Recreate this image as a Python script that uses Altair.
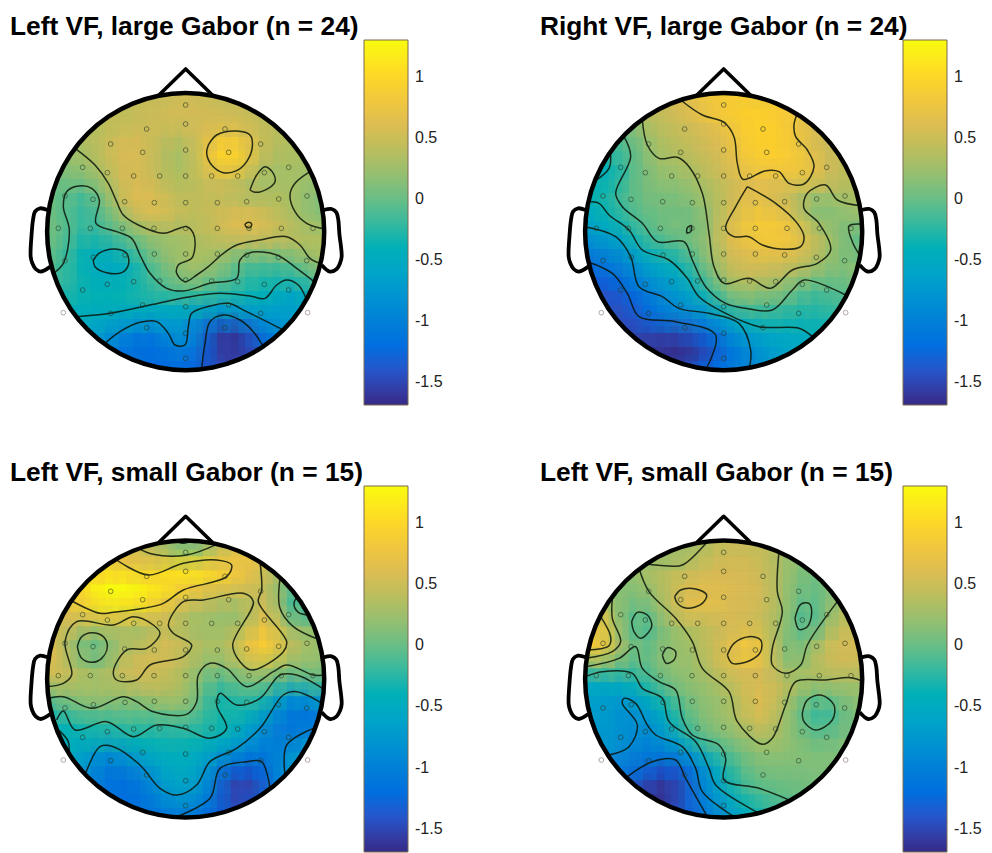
import altair as alt
import pandas as pd

TITLES = ["Left VF, large Gabor (n = 24)", "Right VF, large Gabor (n = 24)",
          "Left VF, small Gabor (n = 15)", "Left VF, small Gabor (n = 15)"]
BAR_TICKS = [1, 0.5, 0, -0.5, -1, -1.5]
STOPS = [-1.69, -1.316, -0.943, -0.569, -0.195, 0.179, 0.553, 0.926, 1.30]
PARULA = ["#352A87", "#0363E1", "#1485D4", "#06A7C6", "#38B99E", "#92BF73", "#D9BA56", "#FCCE2E", "#F9FB0E"]

P1 = [
[.45,.45,.5,.5,.5,.45,.4],
[.4,.45,.45,.5,.5,.5,.5,.5,.5,.45,.4],
[.35,.4,.4,.45,.5,.5,.5,.55,.55,.5,.5,.5,.45,.4,.4],
[.35,.35,.45,.5,.55,.5,.45,.4,.4,.55,.7,.8,.7,.5,.4,.35,.35],
[.3,.35,.45,.55,.6,.55,.4,.3,.3,.6,.95,1.05,.9,.5,.4,.35,.35],
[.15,.2,.25,.4,.55,.6,.5,.4,.3,.35,.55,.85,.95,.75,.4,.3,.3,.3,.3],
[.05,.1,.15,.3,.45,.55,.55,.45,.35,.35,.45,.5,.5,.45,.3,.25,.3,.3,.2],
[0,0,-.1,-.1,.15,.5,.6,.6,.5,.4,.4,.45,.45,.4,.3,.25,.35,.35,.25,.15,.1],
[0,0,-.2,-.2,0,.3,.55,.65,.65,.5,.4,.45,.45,.5,.5,.5,.4,.35,.25,.1,.1],
[.05,0,-.15,-.2,-.05,.1,.35,.45,.5,.45,.4,.45,.5,.6,.65,.6,.5,.4,.3,.2,.2],
[.05,0,-.2,-.25,-.2,-.05,.05,.2,.25,.25,.3,.35,.45,.55,.6,.6,.5,.45,.4,.35,.35],
[0,-.05,-.3,-.4,-.4,-.3,-.15,.05,.2,.25,.35,.35,.35,.3,.25,.25,.25,.3,.3,.35,.35],
[-.1,-.1,-.35,-.45,-.55,-.55,-.45,-.15,.05,.15,.25,.3,.25,.1,-.1,-.05,-.1,-.1,.05,.2,.3],
[-.1,-.15,-.3,-.45,-.5,-.5,-.4,-.25,-.05,.1,.3,.15,.05,-.05,-.15,-.25,-.25,-.25,-.15,-.05,.1],
[-.2,-.3,-.35,-.4,-.35,-.3,-.2,-.15,-.1,-.1,-.1,-.15,-.2,-.3,-.35,-.4,-.5,-.55,-.35],
[-.4,-.4,-.4,-.4,-.4,-.4,-.4,-.4,-.4,-.35,-.35,-.45,-.5,-.5,-.5,-.55,-.65,-.65,-.5],
[-.45,-.5,-.55,-.55,-.6,-.6,-.65,-.65,-.8,-.95,-1.0,-1.05,-.95,-.8,-.75,-.7,-.6],
[-.5,-.55,-.7,-.85,-1.0,-1.15,-1.0,-.75,-.75,-1.1,-1.5,-1.7,-1.5,-1.2,-1.0,-.85,-.7],
[-.6,-.9,-1.1,-1.15,-1.2,-1.15,-1.0,-.95,-1.25,-1.55,-1.65,-1.6,-1.45,-1.2,-1.0],
[-1.1,-1.2,-1.25,-1.25,-1.2,-1.1,-1.3,-1.5,-1.55,-1.5,-1.35],
[-1.2,-1.25,-1.25,-1.25,-1.35,-1.45,-1.45],
]
P2 = [
[.6,.7,.8,.85,.85,.85,.8],
[.45,.5,.6,.75,.85,.9,.95,.95,.9,.9,.8],
[.1,.3,.4,.45,.5,.55,.65,.75,.9,.95,.95,.9,.8,.65,.5],
[-.1,-.05,.2,.3,.4,.45,.5,.6,.65,.85,.95,.95,.95,.75,.6,.5,.45],
[-.15,-.1,.1,.3,.35,.4,.45,.5,.6,.8,.9,.95,.9,.85,.7,.5,.45],
[-.4,-.45,-.15,.05,.2,.3,.3,.4,.5,.55,.75,.85,.9,.9,.85,.75,.55,.45,.4],
[-.45,-.35,-.1,.05,.15,.2,.2,.3,.4,.45,.6,.65,.65,.65,.7,.75,.6,.45,.4],
[-.4,-.35,-.2,-.1,.05,.1,.1,.15,.25,.35,.45,.55,.7,.55,.5,.45,.3,.3,.3,.35,.35],
[-.45,-.4,-.25,-.1,0,.05,0,.05,.1,.3,.45,.6,.75,.7,.6,.45,.1,.1,.2,.3,.3],
[-.55,-.45,-.4,-.2,-.1,.05,.1,.05,0,.3,.5,.7,.85,.85,.8,.65,.3,.2,.1,.15,.2],
[-.75,-.65,-.55,-.45,-.15,-.1,.05,.1,.05,.3,.55,.75,.85,.85,.9,.8,.5,.35,.2,.05,-.05],
[-.95,-.9,-.9,-.6,-.45,-.25,-.2,-.1,.1,.25,.5,.6,.7,.75,.75,.65,.5,.35,.2,-.05,0],
[-1.2,-1.1,-.95,-.9,-.7,-.5,-.45,-.3,-.05,.2,.45,.55,.6,.6,.55,.5,.4,.25,.1,.15,.25],
[-1.35,-1.3,-1.25,-1.05,-.85,-.7,-.6,-.5,-.2,.05,.35,.4,.45,.4,.3,.25,.15,.05,.05,.1,.15],
[-1.4,-1.4,-1.3,-1.1,-.95,-.8,-.65,-.45,-.2,.1,.3,.2,.25,.15,.05,-.15,-.1,-.05,-.05],
[-1.45,-1.45,-1.4,-1.25,-1,-.9,-.8,-.7,-.4,-.15,0,-.05,-.1,-.1,-.2,-.25,-.2,-.15,-.15],
[-1.45,-1.45,-1.35,-1.2,-1.0,-.95,-.95,-.85,-.6,-.4,-.3,-.25,-.3,-.3,-.3,-.3,-.25],
[-1.5,-1.5,-1.5,-1.5,-1.5,-1.45,-1.3,-1.2,-.9,-.7,-.6,-.55,-.5,-.5,-.5,-.45,-.4],
[-1.55,-1.6,-1.65,-1.7,-1.7,-1.6,-1.45,-1.25,-1.0,-.85,-.7,-.6,-.55,-.5,-.45],
[-1.55,-1.6,-1.6,-1.5,-1.3,-1.1,-1,-.85,-.75,-.65,-.55],
[-1.45,-1.3,-1.25,-1.15,-1.05,-.95,-.85],
]
P3 = [
[.45,.3,.1,-.1,.1,.3,.5],
[.6,.6,.5,.45,.4,.35,.45,.5,.65,.7,.75],
[.85,.9,.95,.85,.8,.95,1.05,1.2,1.15,1.05,.9,.8,.65,.4,.3],
[.9,1.15,1.3,1.35,1.3,1.2,1.15,1.1,.9,.8,.75,.7,.65,.5,.35,.1,-.1],
[.85,1.1,1.3,1.35,1.25,1.15,1.0,.75,.65,.5,.45,.4,.4,.45,.45,.05,-.3],
[.6,.65,.8,.85,.9,.85,.8,.65,.5,.35,.3,.25,.15,.2,.5,.6,.1,-.3,0],
[.55,.45,.35,.4,.4,.25,.3,.45,.4,.25,.25,.25,.25,.35,.65,.75,.3,.1,.25],
[.7,.45,.2,.05,.1,.3,.3,.35,.5,.5,.4,.35,.3,.35,.6,.95,.9,.5,.35,.25,.2],
[.65,.45,.15,-.1,0,.3,.45,.5,.6,.55,.45,.3,.3,.35,.65,.85,.8,.4,.3,.25,.2],
[.65,.55,.4,.25,.25,.45,.55,.5,.5,.4,.35,.2,.1,.15,.3,.4,.35,.2,.15,.15,.15],
[.4,.45,.35,.3,.3,.4,.45,.5,.45,.4,.3,.05,-.1,-.05,.05,.1,0,-.15,-.15,-.1,0],
[.05,.1,.2,.25,.25,.2,.15,.3,.35,.35,.3,.05,-.3,-.3,-.15,-.15,-.35,-.8,-.85,-.6,-.4],
[-.2,-.15,0,.05,.05,.05,0,0,.05,.1,.1,-.1,-.35,-.25,-.3,-.4,-.7,-1.0,-1.1,-1.1,-1.0],
[-.45,-.4,-.3,-.25,-.3,-.2,-.15,-.15,-.2,-.15,-.15,-.2,-.25,-.35,-.5,-.7,-.95,-1.1,-1.15,-1.1,-1.0],
[-.45,-.45,-.35,-.3,-.3,-.35,-.35,-.3,-.3,-.3,-.35,-.4,-.5,-.65,-.85,-1.0,-1.05,-1.05,-.85],
[-.45,-.5,-.7,-.85,-.8,-.6,-.5,-.45,-.45,-.45,-.5,-.6,-.75,-.9,-1.0,-1.1,-.9,-.7,-.6],
[-.6,-.85,-1.05,-1.05,-.95,-.8,-.6,-.5,-.5,-.6,-.9,-1.2,-1.3,-1.3,-1.1,-.8,-.65],
[-.65,-.9,-1.1,-1.15,-1.15,-1.0,-.7,-.55,-.55,-.7,-1.1,-1.45,-1.55,-1.45,-1.15,-.8,-.65],
[-1.0,-1.15,-1.2,-1.2,-1.15,-.85,-.7,-.7,-.85,-1.15,-1.5,-1.6,-1.45,-1.2,-.9],
[-1.2,-1.2,-1.2,-1.05,-.9,-.9,-1.0,-1.3,-1.45,-1.4,-1.3],
[-1.15,-1.15,-1.1,-1.15,-1.2,-1.3,-1.35],
]
P4 = [
[.25,.3,.4,.45,.45,.45,.4],
[.2,.2,.25,.35,.45,.5,.5,.5,.45,.3,.15],
[.15,.3,.35,.4,.45,.5,.55,.55,.55,.5,.45,.3,.15,.05,.05],
[.1,.15,.2,.3,.45,.5,.55,.6,.6,.6,.55,.5,.3,.1,0,.05,.1],
[.2,.1,.1,.25,.4,.6,.75,.75,.6,.6,.55,.5,.3,.1,-.05,.05,.25],
[.7,.3,.05,-.1,.1,.45,.65,.55,.55,.6,.55,.5,.45,.3,.05,-.2,.1,.3,.4],
[.85,.3,0,-.2,0,.15,.35,.4,.45,.5,.55,.5,.4,.25,0,-.2,.15,.4,.45],
[.9,.95,.55,.15,-.1,.05,.15,.25,.35,.45,.55,.65,.8,.6,.2,.05,.1,.4,.5,.55,.5],
[.75,.8,.35,.1,-.05,.1,.25,.2,.3,.5,.6,.85,.9,.65,.15,0,.25,.45,.55,.55,.5],
[0,0,-.05,-.05,-.1,.05,.15,.2,.25,.4,.5,.55,.55,.55,.25,.2,.35,.45,.45,.5,.45],
[-.5,-.5,-.45,-.45,-.3,-.05,.1,.15,.2,.3,.4,.5,.55,.55,.45,.35,.3,.3,.3,.3,.25],
[-.6,-.65,-.7,-.7,-.5,-.35,-.15,.05,.15,.2,.25,.4,.6,.6,.4,.2,.05,0,.1,.15,.2],
[-.65,-.65,-.75,-.85,-.75,-.6,-.35,-.1,.1,.2,.25,.4,.65,.6,.35,.1,-.15,-.25,-.05,.1,.15],
[-.7,-.7,-.8,-.85,-.9,-.7,-.5,-.15,.05,.15,.25,.3,.5,.45,.3,.1,-.1,-.15,-.05,.1,.1],
[-.7,-.75,-.8,-.9,-.9,-.7,-.4,-.1,0,.1,.15,.3,.35,.25,.15,0,0,.1,.1],
[-.75,-.85,-.95,-1,-1,-.9,-.85,-.5,-.25,-.1,.05,.15,.2,.15,.15,.1,.1,.1,.1],
[-.95,-1.05,-1.15,-1.3,-1.35,-1.25,-1.0,-.6,-.3,-.1,.05,.1,.1,.1,.1,.1,.1],
[-1.05,-1.2,-1.4,-1.55,-1.6,-1.4,-1.05,-.7,-.4,-.1,0,.05,.05,.05,.1,.1,.1],
[-1.45,-1.6,-1.65,-1.65,-1.4,-1.1,-.85,-.55,-.3,-.15,-.1,-.05,0,0,.05],
[-1.6,-1.55,-1.4,-1.15,-.95,-.65,-.5,-.35,-.2,-.1,-.05],
[-1.35,-1.2,-1.0,-.8,-.6,-.4,-.3],
]

C1 = [
[(165,265),(225,315),(265,370),(290,425),(310,465),(355,495),(430,520),(470,508),(500,500),(520,520),(525,560),(515,595),(475,615),(470,640),(495,665),(530,645),(565,620),(610,580),(650,555),(720,540),(800,530),(840,555),(870,595),(905,612)],
[(870,335),(825,370),(810,405),(825,455),(860,490),(915,507)],
[(565,255),(590,225),(650,213),(690,225),(697,260),(680,305),(650,332),(610,338),(575,315),(560,280),(565,255)],
[(690,390),(710,345),(735,320),(760,340),(765,365),(745,385),(705,397),(690,390)],
[(675,492),(685,487),(695,492),(690,503),(678,500),(675,492)],
[(100,640),(130,610),(148,510),(130,440),(140,395),(175,378),(215,385),(238,420),(228,490),(290,515),(335,535),(360,585),(390,640),(440,685),(490,693),(570,670),(650,655),(660,600),(690,578),(770,585),(830,625),(885,667)],
[(220,600),(240,578),(285,567),(320,580),(325,615),(305,638),(260,638),(225,620),(220,600)],
[(170,770),(270,760),(400,733),(500,712),(600,700),(690,708),(735,715),(770,675),(800,660),(835,675),(858,715)],
[(255,850),(300,815),(360,787),(410,785),(445,820),(465,855),(495,855),(505,800),(515,760),(570,738),(625,730),(680,755),(790,810)],
[(545,925),(555,850),(570,785),(610,765),(660,780),(700,815),(730,860)],
]
C2 = [
[(365,120),(430,165),(495,187),(525,230),(535,310),(552,358),(620,332),(660,335),(690,370),(735,372),(765,320),(745,270),(710,230),(705,195),(715,160)],
[(565,380),(650,430),(715,490),(735,530),(725,560),(680,568),(610,555),(570,530),(525,530),(500,505),(530,440),(565,380)],
[(250,180),(265,255),(300,295),(355,292),(390,320),(430,400),(450,520),(465,620),(495,670),(570,655),(635,685),(700,630),(775,610),(815,570),(780,490),(735,445),(745,400),(800,375),(835,420),(905,437)],
[(915,493),(870,498),(880,545),(905,590)],
[(383,520),(385,503),(397,497),(395,515),(383,520)],
[(195,230),(215,290),(170,400),(190,440),(250,490),(295,545),(375,545),(400,600),(440,680),(500,730),(560,745),(640,750),(700,690),(735,660),(860,705)],
[(155,285),(150,325),(105,365)],
[(80,425),(120,430),(150,465),(210,510),(250,570),(330,600),(385,655),(420,710),(500,760),(600,800),(720,805),(760,830)],
[(78,500),(170,530),(215,590),(240,680),(310,710),(360,745),(450,760),(540,790),(575,870),(570,930)],
[(85,605),(160,640),(205,700),(240,770),(350,785),(470,825),(440,930)],
]
C3 = [
[(465,105),(485,115),(515,108)],
[(355,130),(400,148),(500,150),(590,118)],
[(290,165),(385,210),(490,175),(590,165),(635,180),(620,215),(490,255),(430,295),(370,310),(280,322),(240,325),(150,285)],
[(720,170),(725,255),(715,290),(800,410),(790,440),(695,495),(660,470),(638,420),(700,290),(670,265),(550,285),(490,290),(445,360),(460,385),(515,420),(490,455),(390,480),(350,525),(290,525),(280,500),(320,435),(380,430),(420,385),(400,360),(340,335),(280,360),(170,350),(135,410),(155,510),(130,535),(80,545)],
[(172,425),(185,395),(215,383),(250,395),(262,425),(245,460),(215,472),(185,460),(172,425)],
[(780,220),(780,310),(820,365),(895,403)],
[(838,268),(822,295),(835,322),(868,330)],
[(85,580),(130,575),(215,610),(310,575),(350,590),(400,620),(500,628),(530,590),(535,510),(570,475),(620,490),(680,545),(760,500),(800,480),(880,510),(915,510)],
[(110,645),(130,618),(165,675),(260,650),(340,695),(410,660),(490,670),(570,700),(620,670),(590,600),(600,565),(650,600),(720,580),(780,510),(830,510),(915,555)],
[(110,670),(145,710),(145,760)],
[(195,810),(240,725),(280,725),(360,780),(420,850),(470,870),(530,840),(570,770),(650,730),(720,670),(790,570),(830,560),(915,600)],
[(795,810),(800,720),(880,670)],
[(470,935),(570,880),(600,790),(680,770),(725,770),(750,850)],
]
C4 = [
[(445,110),(370,180),(330,183),(245,175)],
[(240,190),(270,260),(350,340),(400,410),(430,490),(510,560),(535,650),(610,718),(640,700),(680,600),(710,530),(800,525),(875,518),(915,530)],
[(660,140),(655,260),(670,320),(640,430),(640,480),(680,505),(725,480),(745,420),(835,290)],
[(347,275),(365,255),(410,252),(443,270),(430,295),(385,310),(355,295),(347,275)],
[(505,450),(525,415),(570,395),(605,405),(605,440),(570,468),(520,475),(505,450)],
[(85,435),(150,422),(155,395),(125,335)],
[(160,280),(160,340),(185,410),(160,440),(80,460)],
[(218,350),(235,322),(265,330),(278,365),(245,400),(225,380),(218,350)],
[(708,340),(725,298),(750,295),(758,325),(745,365),(720,373),(708,340)],
[(310,450),(325,428),(350,440),(345,465),(322,475),(310,450)],
[(730,625),(745,585),(785,570),(825,600),(820,645),(770,675),(735,650),(730,625)],
[(80,485),(180,460),(230,425),(250,490),(300,530),(350,555),(370,640),(400,690),(480,720),(500,760),(495,825),(600,850),(690,885)],
[(78,515),(130,500),(220,505),(250,550),(310,580),(330,650),(410,710),(450,790),(470,840),(600,925)],
[(150,750),(210,725),(235,660),(190,595),(195,580),(230,595),(265,660),(290,690),(370,725),(410,790),(430,860),(525,935)],
[(205,815),(280,770),(350,765),(380,820),(445,935)],
]

ELECTRODES = [(0,-380),(0,-323),(-117,-308),(118,-308),(-225,-263),(225,-263),(-129,-238),(0,-245),(129,-238),
(-309,-193),(309,-193),(-235,-177),(-156,-167),(-78,-167),(0,-167),(78,-167),(156,-167),(236,-177),
(-362,-107),(364,-107),(-278,-97),(-183,-90),(-94,-87),(0,-87),(95,-87),(183,-90),(279,-98),
(-382,-10),(-286,-10),(-190,-10),(-95,-10),(0,-10),(95,-10),(190,-10),(287,-10),(382,-10),
(-362,87),(-277,77),(-182,70),(-94,67),(0,67),(95,67),(183,70),(278,77),(363,87),
(-309,175),(-235,158),(-156,150),(-78,148),(0,145),(78,148),(156,150),(236,158),(309,175),
(-129,220),(0,225),(129,220),(-225,245),(225,245),(-117,288),(118,288),(0,305),(0,380)]
OUTER_ELECTRODES = [(-367,243),(366,243)]
NOSE = [(-80,-410),(0,-488),(80,-410)]
EAR_L = [(-414,-65),(-437,-70),(-452,-60),(-458,-35),(-462,5),(-465,75),(-460,95),(-450,112),(-435,120),(-406,105)]
EAR_R = [(414,-65),(438,-68),(452,-58),(458,-35),(461,5),(468,75),(463,95),(453,112),(433,120),(408,100)]

XD = [-30, 1272]
W = 434
X = alt.X("x:Q", scale=alt.Scale(domain=XD, nice=False, zero=False), axis=None)
BLUR = [(1.25, 0.5, 1), (1.25, 0.5, -1), (1.9, 0.35, 1), (1.9, 0.35, -1), (2.4, 0.25, 1), (2.4, 0.25, -1)]


def lines(groups):
    rec = []
    for i, g in enumerate(groups):
        for j, (a, b) in enumerate(g):
            rec.append({"id": i, "o": j, "x": a, "y": b})
    return pd.DataFrame(rec)


def panel(title, rows, contours, cx, cy, ytop, dx, height):
    Y = alt.Y("y:Q", scale=alt.Scale(domain=[ytop + 3 * height, ytop], nice=False, zero=False), axis=None)
    cs = alt.Scale(domain=STOPS, range=PARULA, clamp=True)

    def cells(f, step=1):
        rec = []
        for j, row in enumerate(rows):
            yc = cy + 42 * (j - 10)
            k0 = -(len(row) - 1) // 2
            for i, v in enumerate(row):
                xc = cx + 42 * (k0 + i)
                h = 21.6 * f
                rec.append({"x": xc - h, "x2": xc + h, "y": yc - h, "y2": yc + h, "v": v})
        return pd.DataFrame(rec[::step])

    centre = pd.DataFrame([{"x": cx, "y": cy}])
    heat = alt.Chart(cells(1)).mark_rect(strokeWidth=0).encode(
        x=X, x2="x2:Q", y=Y, y2="y2:Q",
        color=alt.Color("v:Q", scale=cs,
                        legend=alt.Legend(orient="none", legendX=354, legendY=0, title=None,
                                          gradientLength=height, gradientThickness=44, values=BAR_TICKS,
                                          labelExpr="'' + datum.value", labelFontSize=16,
                                          labelFont="Liberation Sans", labelColor="#222222", labelOffset=7,
                                          gradientStrokeColor="#7a6a50", gradientStrokeWidth=1)))
    soft = [alt.Chart(cells(f, s)).mark_rect(strokeWidth=0, opacity=o).encode(
        x=X, x2="x2:Q", y=Y, y2="y2:Q", color=alt.Color("v:Q", scale=cs, legend=None)) for f, o, s in BLUR]
    mask = alt.Chart(centre).mark_arc(theta=0, theta2=6.2832, innerRadius=139.5, outerRadius=174,
                                      color="white").encode(x=X, y=Y)
    cont = alt.Chart(lines(contours)).mark_line(color="#0a140a", strokeWidth=1.5, opacity=0.85,
                                                interpolate="catmull-rom").encode(x=X, y=Y, detail="id:N", order="o:Q")
    nose = alt.Chart(lines([[(cx + a, cy + b) for a, b in NOSE]])).mark_line(
        color="black", strokeWidth=3.6, strokeJoin="round").encode(x=X, y=Y, detail="id:N", order="o:Q")
    ears = alt.Chart(lines([[(cx + a, cy + b) for a, b in g] for g in (EAR_L, EAR_R)])).mark_line(
        color="black", strokeWidth=3.8, interpolate="catmull-rom").encode(x=X, y=Y, detail="id:N", order="o:Q")
    ring = alt.Chart(centre).mark_arc(theta=0, theta2=6.2832, innerRadius=136.3, outerRadius=140.8,
                                      color="black").encode(x=X, y=Y)
    el = pd.DataFrame([{"x": cx + a, "y": cy + b} for a, b in ELECTRODES])
    eo = pd.DataFrame([{"x": cx + a, "y": cy + b} for a, b in OUTER_ELECTRODES])
    pts = alt.Chart(el).mark_point(filled=False, size=22, color="#2a3a2a", strokeWidth=1, opacity=0.6).encode(x=X, y=Y)
    pto = alt.Chart(eo).mark_point(filled=False, size=22, color="#a09090", strokeWidth=1, opacity=0.8).encode(x=X, y=Y)
    ticks = alt.Chart(pd.DataFrame({"t": BAR_TICKS, "x": [1158] * 6, "x2": [1164] * 6})).mark_rule(
        color="#333333", strokeWidth=1).encode(
        x=X, x2="x2:Q", y=alt.Y("t:Q", scale=alt.Scale(domain=[STOPS[0], STOPS[-1]], nice=False, zero=False), axis=None))
    return alt.layer(heat, *soft, cont, mask, pts, pto, nose, ears, ring, ticks).resolve_scale(y="independent").properties(
        width=W, height=height,
        title=alt.TitleParams(title, anchor="start", font="Liberation Sans", fontSize=26.3, fontWeight="bold",
                              color="black", dx=dx, offset=0, frame="group"))


p1 = panel(TITLES[0], P1, C1, 497, 515, -60, 0, 365)
p2 = panel(TITLES[1], P2, C2, 494, 515, -60, -9, 365)
p3 = panel(TITLES[2], P3, C3, 497, 522, -57, 0, 366)
p4 = panel(TITLES[3], P4, C4, 494, 522, -57, -9, 366)

top = alt.hconcat(p1, p2, spacing=96).resolve_scale(color="independent").resolve_legend(color="independent")
bot = alt.hconcat(p3, p4, spacing=96).resolve_scale(color="independent").resolve_legend(color="independent")
chart = alt.vconcat(top, bot, spacing=53).resolve_scale(color="independent").resolve_legend(color="independent").properties(
    padding={"left": 2, "top": 5, "right": 0, "bottom": 0}, background="white"
).configure_view(strokeWidth=0, stroke="transparent")
chart.save("out.html", embed_options={"renderer": "svg", "actions": False})
